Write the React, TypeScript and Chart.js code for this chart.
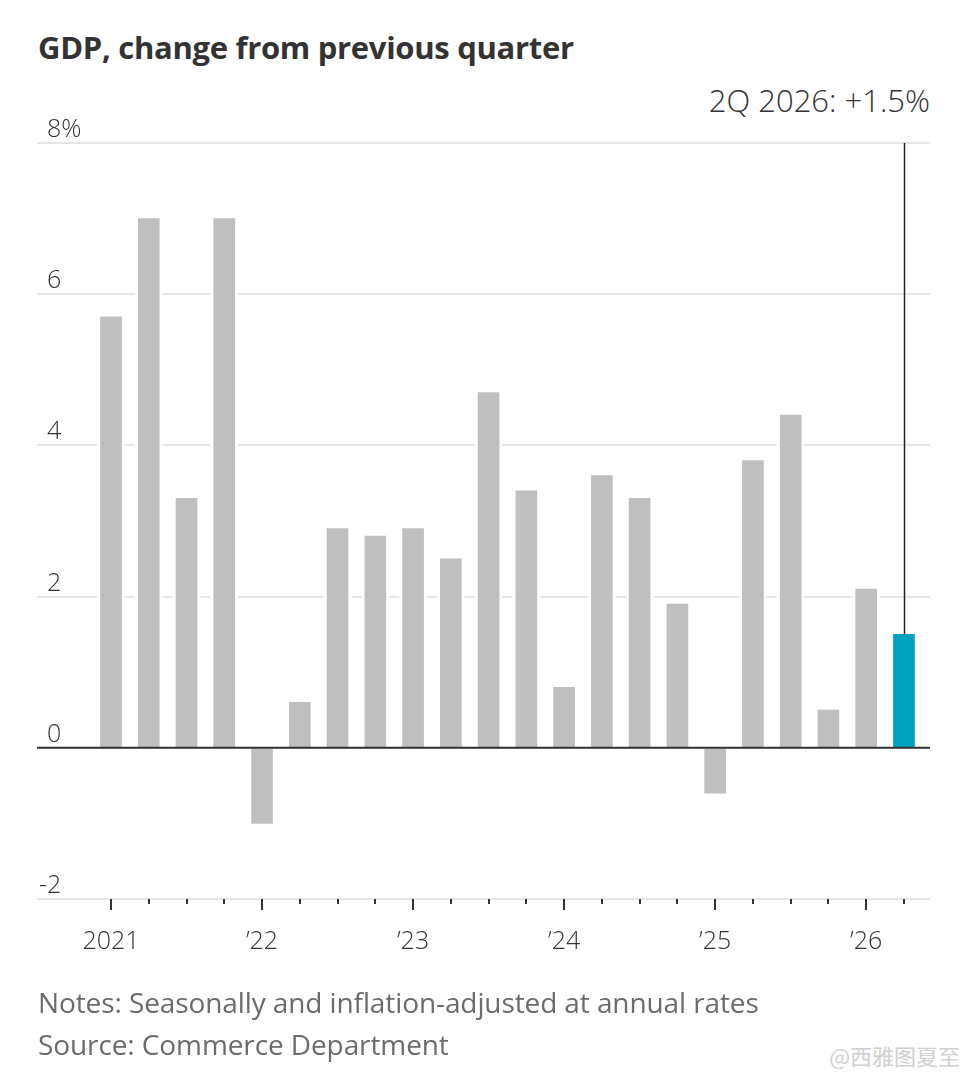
import React, { useEffect, useRef } from "react";
import { Chart, registerables } from "chart.js";

Chart.register(...registerables);

// ---- data ----
const quarters = [
  "1Q 2021", "2Q 2021", "3Q 2021", "4Q 2021",
  "1Q 2022", "2Q 2022", "3Q 2022", "4Q 2022",
  "1Q 2023", "2Q 2023", "3Q 2023", "4Q 2023",
  "1Q 2024", "2Q 2024", "3Q 2024", "4Q 2024",
  "1Q 2025", "2Q 2025", "3Q 2025", "4Q 2025",
  "1Q 2026", "2Q 2026",
];
const gdpChange = [
  5.7, 7.0, 3.3, 7.0,
  -1.0, 0.6, 2.9, 2.8,
  2.9, 2.5, 4.7, 3.4,
  0.8, 3.6, 3.3, 1.9,
  -0.6, 3.8, 4.4, 0.5,
  2.1, 1.5,
];
const yearTickIndex = [0, 4, 8, 12, 16, 20];
const yearTickLabels = ["2021", "\u201922", "\u201923", "\u201924", "\u201925", "\u201926"];
const yTickValues = [-2, 0, 2, 4, 6, 8];
const highlightIndex = 21;

const FONT = "'Open Sans', 'Noto Sans', sans-serif";
const TEXT = "#333333";
const GRAY_BAR = "#bfbfbf";
const TEAL = "#00a2bf";

const W = 968;
const CH = 1000;

const overlayPlugin = {
  id: "wsjOverlay",
  afterDatasetsDraw(chart: any) {
    const { ctx, chartArea, scales } = chart;
    const xs = scales.x;
    const ys = scales.y;
    ctx.save();
    // zero line
    const y0 = ys.getPixelForValue(0);
    ctx.strokeStyle = "#333333";
    ctx.lineWidth = 2;
    ctx.beginPath();
    ctx.moveTo(chartArea.left, y0);
    ctx.lineTo(chartArea.right, y0);
    ctx.stroke();
    // annotation leader line
    const hx = Math.round(xs.getPixelForValue(highlightIndex)) + 0.5;
    const hy = ys.getPixelForValue(gdpChange[highlightIndex]);
    ctx.strokeStyle = "#222222";
    ctx.lineWidth = 1.5;
    ctx.beginPath();
    ctx.moveTo(hx, chartArea.top);
    ctx.lineTo(hx, hy);
    ctx.stroke();
    ctx.restore();
  },
  afterDraw(chart: any) {
    const { ctx, chartArea, scales } = chart;
    const xs = scales.x;
    const ys = scales.y;
    ctx.save();
    // x tick marks
    ctx.strokeStyle = "#333333";
    ctx.lineWidth = 2;
    for (let i = 0; i < quarters.length; i++) {
      const x = Math.round(xs.getPixelForValue(i));
      const len = i % 4 === 0 ? 11 : 5;
      ctx.beginPath();
      ctx.moveTo(x, chartArea.bottom);
      ctx.lineTo(x, chartArea.bottom + len);
      ctx.stroke();
    }
    // y labels above gridlines
    ctx.font = `300 25px ${FONT}`;
    ctx.fillStyle = TEXT;
    ctx.textBaseline = "alphabetic";
    const lx = chartArea.left + 10;
    yTickValues.forEach((v) => {
      const y = ys.getPixelForValue(v) - 6;
      const num = String(Math.abs(v));
      ctx.textAlign = "left";
      ctx.fillText(num + (v === 8 ? "%" : ""), lx, y);
      if (v < 0) {
        ctx.textAlign = "right";
        ctx.fillText("-", lx, y);
      }
    });
    ctx.restore();
  },
};

export default function App() {
  const ref = useRef<HTMLCanvasElement | null>(null);

  useEffect(() => {
    if (!ref.current) return;
    const haloData = gdpChange.map((v, i) => ({ x: i, y: v }));
    const barData = gdpChange.map((v, i) => ({ x: i, y: v }));
    const chart = new Chart(ref.current, {
      type: "bar",
      data: {
        labels: quarters,
        datasets: [
          {
            label: "halo",
            data: haloData as any,
            backgroundColor: "#ffffff",
            barThickness: 27,
            grouped: false,
            order: 2,
          } as any,
          {
            label: "GDP change",
            data: barData as any,
            backgroundColor: gdpChange.map((_, i) => (i === highlightIndex ? TEAL : GRAY_BAR)),
            barThickness: 21,
            grouped: false,
            order: 1,
          } as any,
        ],
      },
      options: {
        responsive: false,
        animation: false,
        devicePixelRatio: 1,
        layout: { padding: { left: 37, right: 38, top: 143, bottom: 41 } },
        plugins: {
          legend: { display: false },
          tooltip: { enabled: false },
          title: { display: false },
        },
        scales: {
          x: {
            type: "linear",
            min: -1.96,
            max: 21.69,
            offset: false,
            bounds: "data",
            grid: { display: false, offset: false },
            border: { display: false },
            afterBuildTicks: (scale: any) => {
              scale.ticks = yearTickIndex.map((v) => ({ value: v }));
            },
            afterFit: (scale: any) => {
              scale.height = 60;
              scale.paddingLeft = 0;
              scale.paddingRight = 0;
            },
            ticks: {
              autoSkip: false,
              maxRotation: 0,
              padding: 20,
              color: TEXT,
              font: { family: FONT, size: 25, weight: 300 as any },
              callback: (_v: any, index: number) => yearTickLabels[index],
            },
          },
          y: {
            min: -2,
            max: 8,
            afterBuildTicks: (scale: any) => {
              scale.ticks = yTickValues.map((v) => ({ value: v }));
            },
            afterFit: (scale: any) => {
              scale.width = 0;
            },
            grid: { color: "#e6e6e6", lineWidth: 2, drawTicks: false },
            border: { display: false },
            ticks: { display: false },
          },
        },
      },
      plugins: [overlayPlugin],
    } as any);
    return () => chart.destroy();
  }, []);

  return (
    <div style={{ position: "absolute", left: 0, top: 0, width: W, height: 1080, background: "#fff", overflow: "hidden", fontFamily: FONT }}>
      <div style={{ position: "absolute", left: 38, top: 27, fontSize: 31, fontWeight: 700, color: TEXT, lineHeight: "40px", whiteSpace: "nowrap", letterSpacing: "-0.3px" }}>
        GDP, change from previous quarter
      </div>
      <div style={{ position: "absolute", right: 38, top: 80, fontSize: 31, fontWeight: 300, color: TEXT, lineHeight: "40px", whiteSpace: "nowrap" }}>
        2Q 2026: +1.5%
      </div>
      <canvas ref={ref} width={W} height={CH} style={{ position: "absolute", left: 0, top: 0, width: W, height: CH }} />
      <div style={{ position: "absolute", left: 38, top: 981, fontSize: 28, fontWeight: 400, color: "#6b6b6b", lineHeight: "42px", whiteSpace: "nowrap", letterSpacing: "-0.1px" }}>
        <div>Notes: Seasonally and inflation-adjusted at annual rates</div>
        <div>Source: Commerce Department</div>
      </div>
      <div style={{ position: "absolute", right: 8, top: 1040, fontSize: 22, color: "#d0d0d0", fontFamily: "'Noto Sans CJK SC', sans-serif", lineHeight: "30px", whiteSpace: "nowrap" }}>
        @西雅图夏至
      </div>
    </div>
  );
}
